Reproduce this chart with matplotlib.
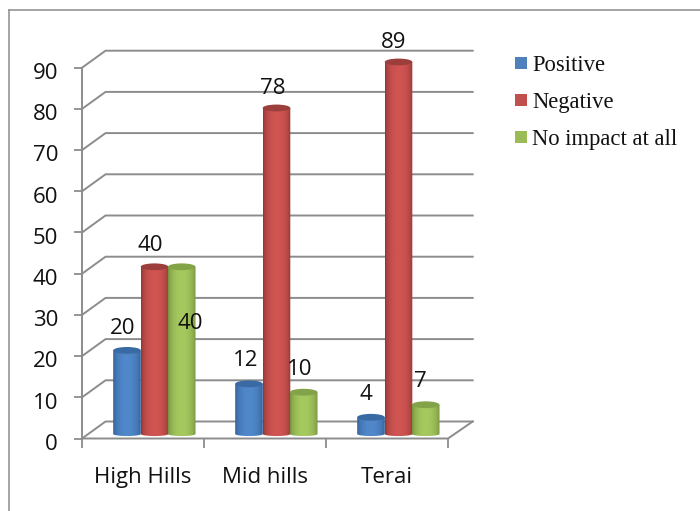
import numpy as np
import matplotlib
matplotlib.use('Agg')
import matplotlib.pyplot as plt
from matplotlib.colors import LinearSegmentedColormap
from matplotlib.patches import PathPatch, Ellipse, Rectangle
from matplotlib.path import Path

regions = ['High Hills', 'Mid hills', 'Terai']
series_names = ['Positive', 'Negative', 'No impact at all']
positive = [20, 12, 4]
negative = [40, 78, 89]
no_impact = [40, 10, 7]
y_ticks = [0, 10, 20, 30, 40, 50, 60, 70, 80, 90]

# edge, centre and cap shades for each cylinder colour
shades = [('#2f5a8e', '#5088cb', '#3a6aa3'),
          ('#8a3230', '#d05552', '#9c3f3c'),
          ('#6d8a38', '#a6c95f', '#83a348')]
legend_colors = ['#4f81bd', '#c0504d', '#9bbb59']

W, H = 700, 511
GREY = '#8c8c8c'
TEXT = '#111111'
FONT = 'Open Sans'
FS = 16

fig = plt.figure(figsize=(W / 100, H / 100), dpi=100)

# frame axes: one category = 122 px, one value unit = 4.12 px on the front edge
frame = fig.add_axes([0, 0, 1, 1])
x0, y0, ppx, ppy = 154.5, 438.5, 122.0, 4.12
frame.set_xlim(-x0 / ppx, (W - x0) / ppx)
frame.set_ylim((y0 - H) / ppy, y0 / ppy)
frame.axis('off')

# outer chart border, open on the right and bottom
frame.plot([-x0 / ppx + 8.5 / ppx] * 2, [(y0 - H) / ppy, (y0 - 10) / ppy], color=GREY, lw=1.1)
frame.plot([-x0 / ppx + 8.5 / ppx, (W - x0) / ppx], [(y0 - 10) / ppy] * 2, color=GREY, lw=1.1)

left = -0.594
right = left + len(regions)
dx, dy = 23.5 / ppx, 17 / ppy
for v in y_ticks:
    frame.plot([left - 8 / ppx, left], [v, v], color=GREY, lw=1.3, solid_capstyle='butt')
    frame.plot([left, left + dx, right + dx * 1.05], [v, v + dy, v + dy], color=GREY, lw=1.4)
    frame.text(left - 24 / ppx, v - 1.4, str(v), ha='right', va='center', fontsize=FS,
               family=FONT, color=TEXT)
frame.plot([left, left], [0, 90], color=GREY, lw=1.4)
frame.plot([left, right, right + dx * 1.05], [0, 0, dy], color=GREY, lw=1.4)
for i in range(len(regions) + 1):
    frame.plot([left + i] * 2, [0, -9 / ppy], color=GREY, lw=1.3, solid_capstyle='butt')
for i, name in enumerate(regions):
    frame.text(left + i + 0.5, -9.4, name, ha='center', va='center', fontsize=FS,
               family=FONT, color=TEXT)

# bar axes: the cylinders stand on the middle of the floor
bars = fig.add_axes([0, 0, 1, 1])
by0, bppy = 434.0, 4.18
bars.set_xlim(-x0 / ppx, (W - x0) / ppx)
bars.set_ylim((by0 - H) / bppy, by0 / bppy)
bars.axis('off')
bars.patch.set_alpha(0)

half_w = 13.8 / ppx
cap = 3.4 / bppy
offsets = [-27.5 / ppx, 0.0, 27.2 / ppx]
theta = np.linspace(np.pi, 2 * np.pi, 40)


def cylinder(ax, xc, value, colors):
    edge, mid, top = colors
    grad = np.sin(np.linspace(0, np.pi, 128))[None, :] ** 0.5
    arc_x = xc + half_w * np.cos(theta)
    arc_y = cap * np.sin(theta) * 0.6
    verts = [(xc - half_w, value)] + list(zip(arc_x, arc_y)) + [(xc + half_w, value)]
    patch = PathPatch(Path(verts + [verts[0]], closed=True), fc='none', ec='none')
    ax.add_patch(patch)
    im = ax.imshow(grad, extent=[xc - half_w, xc + half_w, -2, value], aspect='auto',
                   cmap=LinearSegmentedColormap.from_list('cyl', [edge, mid], N=128),
                   vmin=0, vmax=1, interpolation='bilinear', zorder=3)
    im.set_clip_path(patch)
    ax.add_patch(Ellipse((xc, value), 2 * half_w, 2 * cap, fc=top, ec='none', zorder=3.1))


all_series = [positive, negative, no_impact]
xl, yl = bars.get_xlim(), bars.get_ylim()
for s, values in enumerate(all_series):
    for i, v in enumerate(values):
        cylinder(bars, i + offsets[s], v, shades[s])
bars.set_xlim(xl)
bars.set_ylim(yl)

# data labels are placed clear of the neighbouring cylinders, offset from the cap in px
label_shift = [[(-4, 22), (-3, 23), (-5, 23)],
               [(-4, 21), (-4, 19), (-5, 19)],
               [(9, -57), (-4, 23), (-5, 23)]]
for s, values in enumerate(all_series):
    for i, v in enumerate(values):
        sx, sy = label_shift[s][i]
        bars.annotate(str(v), (i + offsets[s], v), xytext=(sx * 0.72, sy * 0.72),
                      textcoords='offset points', ha='center', va='center',
                      fontsize=FS, family=FONT, color=TEXT, zorder=5)

# legend built by hand so the swatches stay small and square
for s, name in enumerate(series_names):
    y = 63 + 37 * s
    fig.patches.append(Rectangle((515 / W, 1 - (y + 6) / H), 12 / W, 12 / H,
                                 transform=fig.transFigure, fc=legend_colors[s], ec='none'))
    fig.text(532 / W, 1 - y / H, name, ha='left', va='center_baseline', fontsize=16.3,
             family='Liberation Serif', color=TEXT)

fig.savefig('out.png', dpi=100)
